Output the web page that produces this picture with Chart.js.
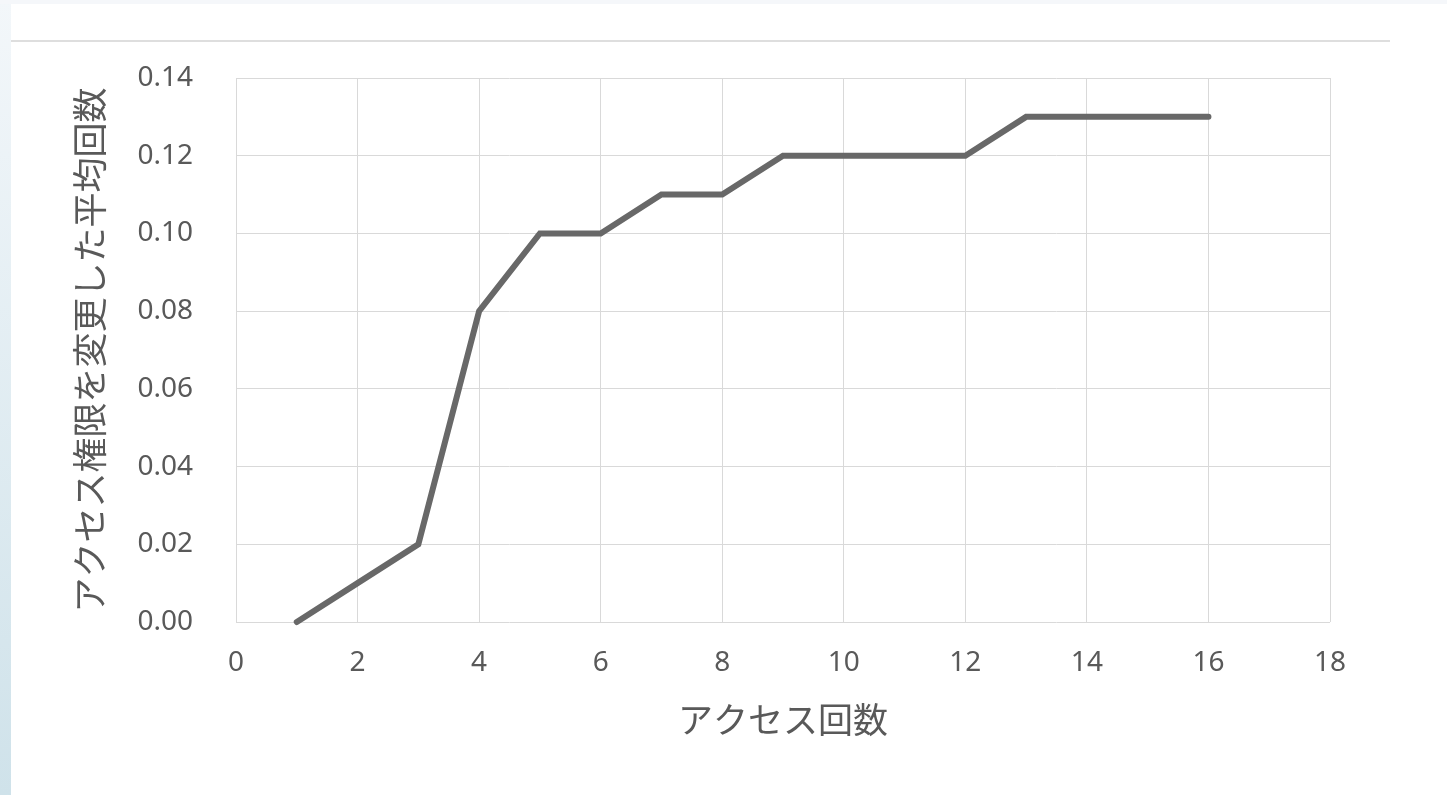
<!DOCTYPE html>
<html>
<head>
<meta charset="utf-8">
<script src="https://cdn.jsdelivr.net/npm/chart.js@4/dist/chart.umd.min.js"></script>
<style>
  html, body { margin: 0; padding: 0; background: #fff; }
  #wrap { position: relative; width: 1447px; height: 795px; overflow: hidden; }
  .edge-left { position: absolute; left: 0; top: 0; width: 11px; height: 795px;
    background: linear-gradient(to bottom, #f3f7fa, #cfe2ea); }
  .edge-top { position: absolute; left: 0; top: 0; width: 1447px; height: 4px; background: #f5f7fa; }
  .rule { position: absolute; left: 11px; top: 40px; width: 1379px; height: 2px; background: #dedede; }
  canvas { position: absolute; left: 0; top: 0; }
</style>
</head>
<body>
<div id="wrap">
  <div class="edge-left"></div>
  <div class="edge-top"></div>
  <div class="rule"></div>
  <canvas id="chart" width="1447" height="795"></canvas>
</div>
<script>
// アクセス回数ごとの平均値
const accessCounts = [1, 2, 3, 4, 5, 6, 7, 8, 9, 10, 11, 12, 13, 14, 15, 16];
const avgChanges = [0, 0.01, 0.02, 0.08, 0.10, 0.10, 0.11, 0.11, 0.12, 0.12, 0.12, 0.12, 0.13, 0.13, 0.13, 0.13];

const xTitle = 'アクセス回数';
const yTitle = 'アクセス権限を変更した平均回数';

const textColor = '#595959';
const gridColor = '#d9d9d9';
const tickFont = { family: 'Noto Sans', size: 28 };
const titleFont = { family: 'Noto Sans CJK JP', size: 35 };

new Chart(document.getElementById('chart').getContext('2d'), {
    type: 'line',
    data: {
        datasets: [{
            data: accessCounts.map((x, i) => ({ x: x, y: avgChanges[i] })),
            borderColor: '#686868',
            borderWidth: 6,
            borderCapStyle: 'round',
            borderJoinStyle: 'miter',
            pointRadius: 0,
            tension: 0,
            fill: false,
            clip: 10
        }]
    },
    options: {
        responsive: false,
        animation: false,
        layout: { padding: { left: 0, top: 78, right: 117, bottom: 0 } },
        plugins: { legend: { display: false }, tooltip: { enabled: false } },
        scales: {
            x: {
                type: 'linear',
                min: 0,
                max: 18,
                afterFit: s => { s.height = 173; },
                grid: { color: gridColor, drawTicks: false },
                border: { display: false },
                ticks: { stepSize: 2, padding: 24, color: textColor, font: tickFont },
                title: { display: true, text: xTitle, color: textColor, font: titleFont, padding: { top: 0, bottom: 54 } }
            },
            y: {
                min: 0,
                max: 0.14,
                afterFit: s => { s.width = 236; },
                grid: { color: gridColor, drawTicks: false },
                border: { display: false },
                ticks: { stepSize: 0.02, padding: 43, color: textColor, font: tickFont, callback: v => v.toFixed(2) },
                title: { display: true, text: yTitle, color: textColor, font: titleFont, padding: { top: 69, bottom: 0 } }
            }
        }
    }
});
</script>
</body>
</html>
